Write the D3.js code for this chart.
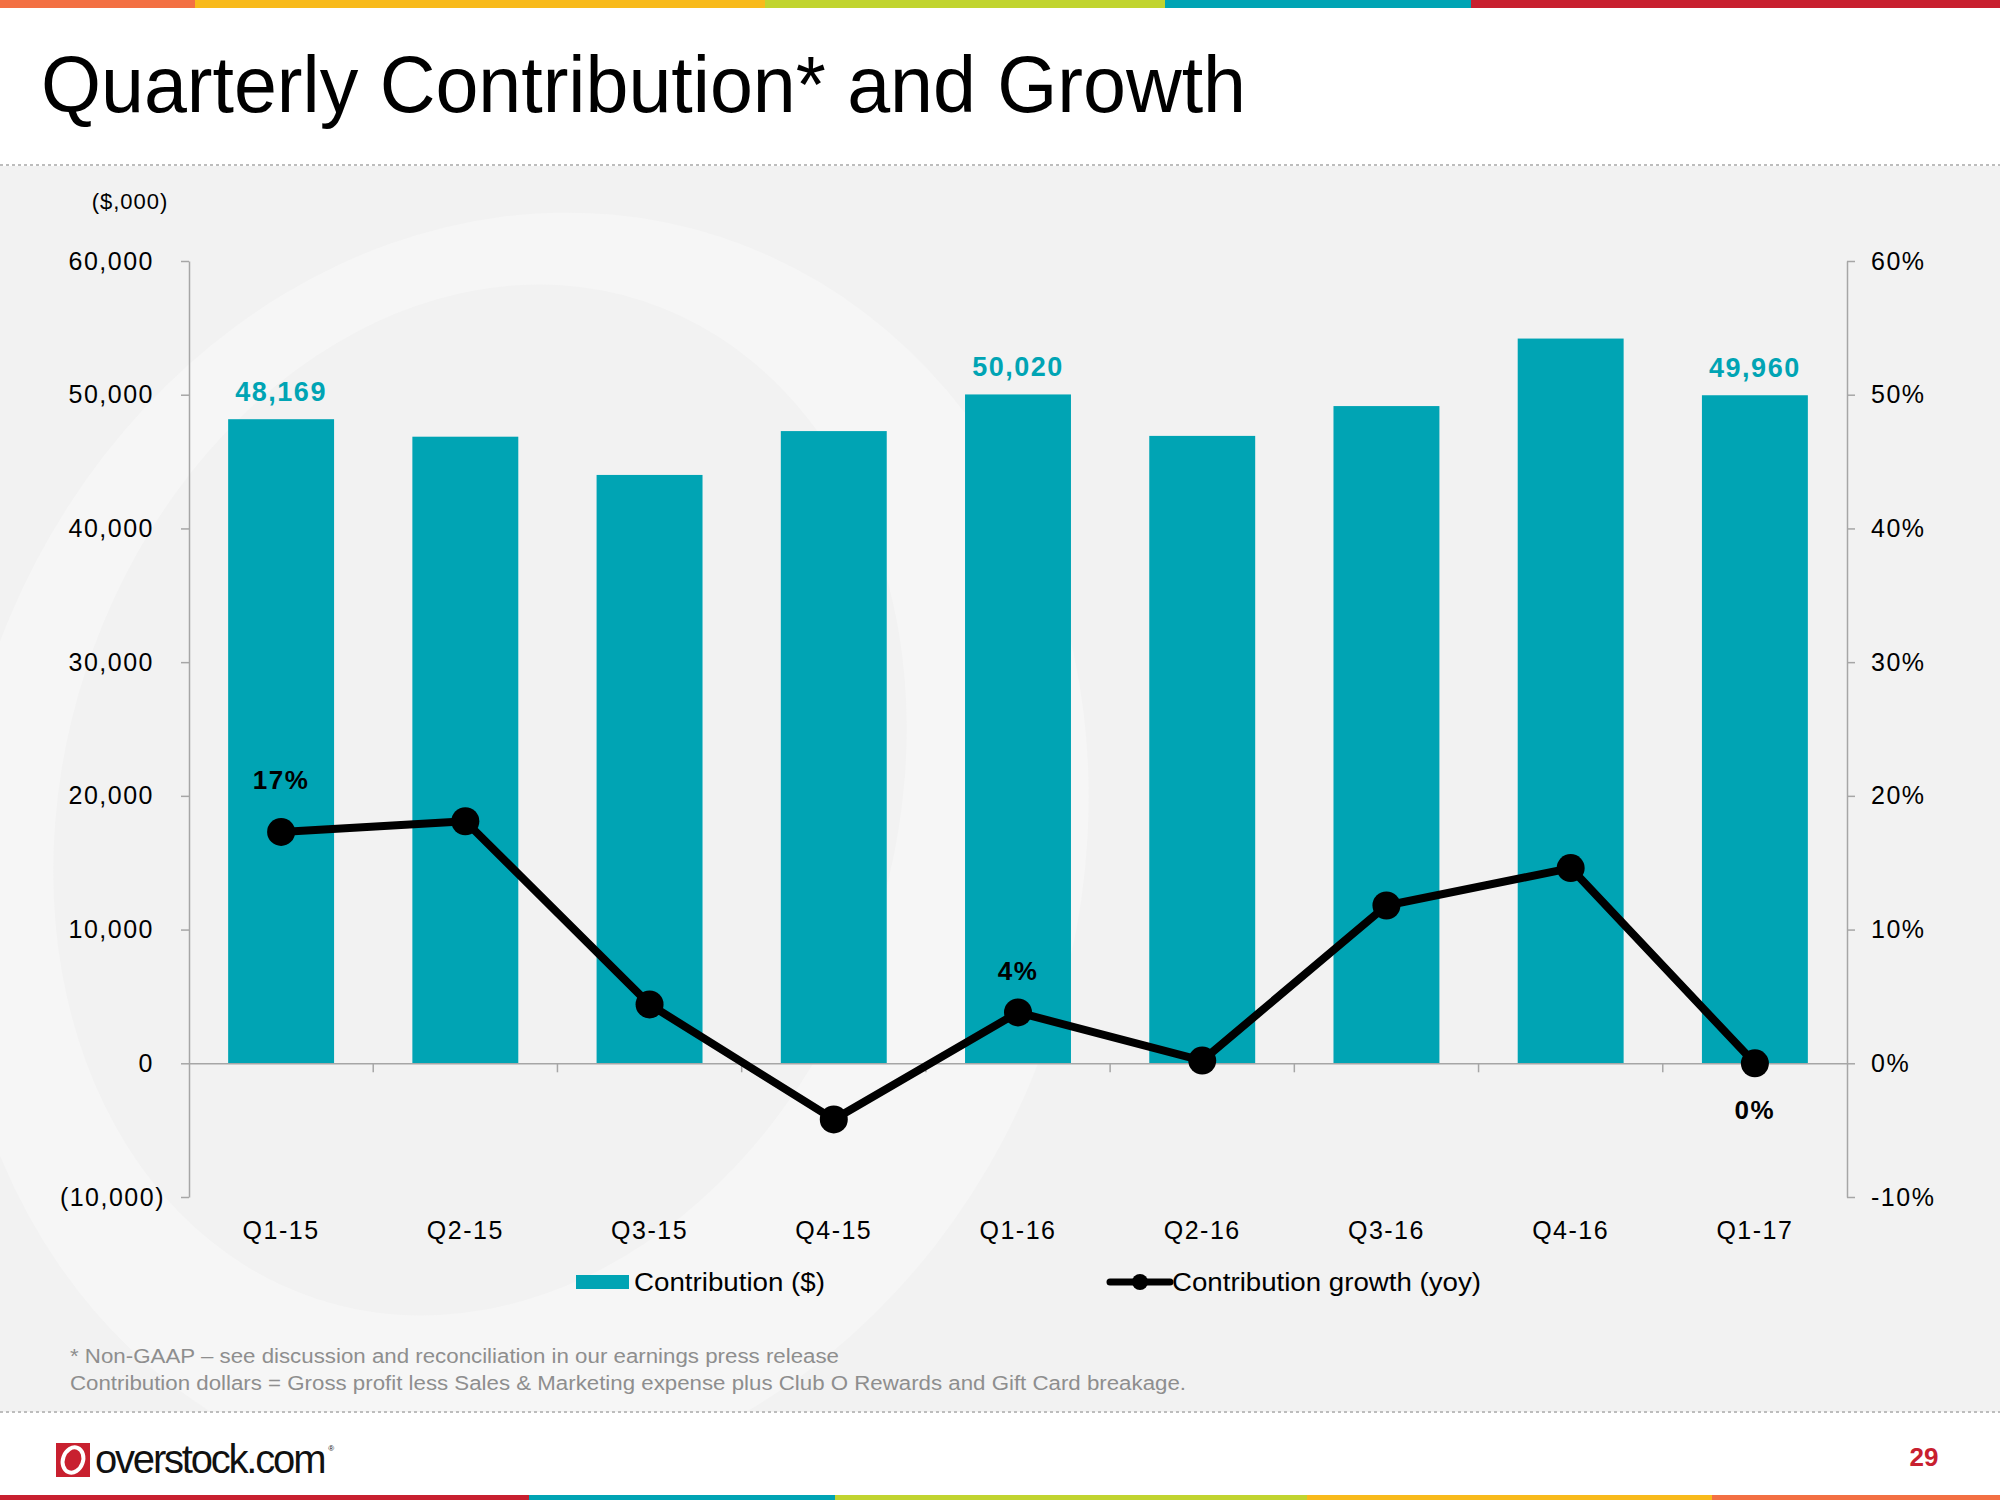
<!DOCTYPE html>
<html>
<head>
<meta charset="utf-8">
<script src="https://cdn.jsdelivr.net/npm/d3@7"></script>
<style>
  html, body { margin: 0; padding: 0; background: #ffffff; }
  svg { display: block; }
</style>
</head>
<body>
<script>
// ---------- DATA ----------
const categories = ["Q1-15", "Q2-15", "Q3-15", "Q4-15", "Q1-16", "Q2-16", "Q3-16", "Q4-16", "Q1-17"];
const contribution = [48169, 46860, 44000, 47280, 50020, 46920, 49150, 54200, 49960];
const growth = [17.3, 18.1, 4.4, -4.2, 3.8, 0.2, 11.8, 14.6, 0.0];
const leftTicks = [-10000, 0, 10000, 20000, 30000, 40000, 50000, 60000];
const rightTicks = [-10, 0, 10, 20, 30, 40, 50, 60];
const barLabels = [{ i: 0, text: "48,169" }, { i: 4, text: "50,020" }, { i: 8, text: "49,960" }];
const growthLabels = [{ i: 0, text: "17%", side: "above" }, { i: 4, text: "4%", side: "above" }, { i: 8, text: "0%", side: "below" }];
const seriesNames = ["Contribution ($)", "Contribution growth (yoy)"];
const titleText = "Quarterly Contribution* and Growth";
const unitText = "($,000)";
const footnotes = [
  "* Non-GAAP \u2013 see discussion and reconciliation in our earnings press release",
  "Contribution dollars = Gross profit less Sales & Marketing expense plus Club O Rewards and Gift Card breakage."
];
const topStripe = [["#F37043", 195], ["#F8BA1B", 570], ["#C1D42F", 400], ["#00A4B4", 306], ["#C8202F", 529]];
const bottomStripe = [["#C8202F", 529], ["#00A4B4", 306], ["#C1D42F", 472], ["#F8BA1B", 405], ["#F37043", 288]];

// ---------- STYLE ----------
const W = 2000, H = 1500;
const TEAL = "#00A4B4", RED = "#C8202F", AXIS = "#A6A6A6";
const FONT = "'Liberation Sans', Arial, sans-serif";
const NARROW = "'Liberation Sans Narrow', 'Liberation Sans', Arial, sans-serif";
const growthLabelOffset = { 0: -52, 4: -42, 8: 47 };

const svg = d3.select("body").append("svg").attr("width", W).attr("height", H);

// background panels
svg.append("rect").attr("x", 0).attr("y", 0).attr("width", W).attr("height", H).attr("fill", "#ffffff");
svg.append("rect").attr("x", 0).attr("y", 166).attr("width", W).attr("height", 1246).attr("fill", "#F2F2F2");

// watermark ring (faint "O")
const defs = svg.append("defs");
defs.append("clipPath").attr("id", "grayClip").append("rect")
  .attr("x", 0).attr("y", 167).attr("width", W).attr("height", 1244);
const wm = svg.append("g").attr("clip-path", "url(#grayClip)");
wm.append("ellipse").attr("cx", 520).attr("cy", 850).attr("rx", 560).attr("ry", 645)
  .attr("transform", "rotate(18,520,850)").attr("fill", "#F6F6F6");
wm.append("ellipse").attr("cx", 480).attr("cy", 800).attr("rx", 415).attr("ry", 525)
  .attr("transform", "rotate(18,480,800)").attr("fill", "#F2F2F2");

// stripes
let sx = 0;
topStripe.forEach(([c, w]) => { svg.append("rect").attr("x", sx).attr("y", 0).attr("width", w).attr("height", 8).attr("fill", c); sx += w; });
sx = 0;
bottomStripe.forEach(([c, w]) => { svg.append("rect").attr("x", sx).attr("y", 1495).attr("width", w).attr("height", 5).attr("fill", c); sx += w; });

// dashed separators
[165, 1412].forEach(y => svg.append("line").attr("x1", 0).attr("x2", W).attr("y1", y).attr("y2", y)
  .attr("stroke", "#BDBDBD").attr("stroke-width", 2).attr("stroke-dasharray", "3,3"));

// title
svg.append("text").attr("x", 41).attr("y", 112).text(titleText)
  .attr("font-family", NARROW).attr("font-size", 80).attr("fill", "#000")
  .attr("textLength", 1205).attr("lengthAdjust", "spacingAndGlyphs");

// ---------- SCALES ----------
const plotL = 189, plotR = 1847, plotT = 261, plotB = 1197;
const x = d3.scaleBand().domain(categories).range([plotL, plotR]).paddingInner(0.425).paddingOuter(0.2125);
const slot = d3.scaleBand().domain(categories).range([plotL, plotR]).padding(0);
const yL = d3.scaleLinear().domain([-10000, 60000]).range([plotB, plotT]);
const yR = d3.scaleLinear().domain([-10, 60]).range([plotB, plotT]);

// unit label
svg.append("text").attr("x", 130).attr("y", 201).attr("dy", "0.35em").attr("text-anchor", "middle")
  .text(unitText).attr("font-family", FONT).attr("font-size", 22).attr("letter-spacing", 1).attr("fill", "#000");

// left axis
const fmtL = v => v < 0 ? "(" + d3.format(",")(-v) + ")" : d3.format(",")(v);
const gL = svg.append("g").attr("transform", `translate(${plotL},0)`)
  .call(d3.axisLeft(yL).tickValues(leftTicks).tickSize(8).tickSizeOuter(0).tickFormat(fmtL));
gL.select(".domain").attr("stroke", AXIS).attr("stroke-width", 1.5);
gL.selectAll(".tick line").attr("stroke", AXIS).attr("stroke-width", 1.5);
gL.selectAll(".tick text").attr("font-family", FONT).attr("font-size", 25).attr("letter-spacing", 1.5)
  .attr("fill", "#000").attr("x", d => d < 0 ? -24 : -35);

// right axis
const gR = svg.append("g").attr("transform", `translate(${plotR},0)`)
  .call(d3.axisRight(yR).tickValues(rightTicks).tickSize(8).tickSizeOuter(0).tickFormat(v => v + "%"));
gR.select(".domain").attr("stroke", AXIS).attr("stroke-width", 1.5);
gR.selectAll(".tick line").attr("stroke", AXIS).attr("stroke-width", 1.5);
gR.selectAll(".tick text").attr("font-family", FONT).attr("font-size", 25).attr("letter-spacing", 1.5)
  .attr("fill", "#000").attr("x", 24);

// bars
svg.append("g").selectAll("rect").data(contribution).join("rect")
  .attr("x", (d, i) => x(categories[i]))
  .attr("width", x.bandwidth())
  .attr("y", d => yL(Math.max(0, d)))
  .attr("height", d => Math.abs(yL(d) - yL(0)))
  .attr("fill", TEAL);

// category (zero) axis
const y0 = yL(0);
const gX = svg.append("g").attr("transform", `translate(0,${y0})`)
  .call(d3.axisBottom(slot).tickSize(0).tickSizeOuter(0).tickFormat(""));
gX.select(".domain").attr("stroke", AXIS).attr("stroke-width", 1.5);
svg.append("g").selectAll("line").data(categories.slice(1)).join("line")
  .attr("x1", d => slot(d)).attr("x2", d => slot(d))
  .attr("y1", y0).attr("y2", y0 + 9).attr("stroke", AXIS).attr("stroke-width", 1.5);

// category labels
svg.append("g").selectAll("text").data(categories).join("text")
  .attr("x", d => x(d) + x.bandwidth() / 2).attr("y", plotB + 33).attr("dy", "0.35em")
  .attr("text-anchor", "middle").text(d => d)
  .attr("font-family", FONT).attr("font-size", 25).attr("letter-spacing", 1.5).attr("fill", "#000");

// bar labels
svg.append("g").selectAll("text").data(barLabels).join("text")
  .attr("x", d => x(categories[d.i]) + x.bandwidth() / 2)
  .attr("y", d => yL(contribution[d.i]) - 18)
  .attr("text-anchor", "middle").text(d => d.text)
  .attr("font-family", FONT).attr("font-weight", "bold").attr("font-size", 27)
  .attr("letter-spacing", 1.5).attr("fill", TEAL);

// growth line
const cx = i => x(categories[i]) + x.bandwidth() / 2;
const line = d3.line().x((d, i) => cx(i)).y(d => yR(d));
svg.append("path").datum(growth).attr("d", line)
  .attr("fill", "none").attr("stroke", "#000").attr("stroke-width", 8)
  .attr("stroke-linejoin", "round").attr("stroke-linecap", "round");
svg.append("g").selectAll("circle").data(growth).join("circle")
  .attr("cx", (d, i) => cx(i)).attr("cy", d => yR(d)).attr("r", 14).attr("fill", "#000");

// growth labels
svg.append("g").selectAll("text").data(growthLabels).join("text")
  .attr("x", d => cx(d.i))
  .attr("y", d => yR(growth[d.i]) + growthLabelOffset[d.i])
  .attr("dy", "0.35em").attr("text-anchor", "middle").text(d => d.text)
  .attr("font-family", FONT).attr("font-weight", "bold").attr("font-size", 26)
  .attr("letter-spacing", 1.5).attr("fill", "#000");

// legend
const legY = 1282;
svg.append("rect").attr("x", 576).attr("y", legY - 7).attr("width", 53).attr("height", 14).attr("fill", TEAL);
svg.append("text").attr("x", 634).attr("y", legY).attr("dy", "0.35em").text(seriesNames[0])
  .attr("font-family", FONT).attr("font-size", 25).attr("fill", "#000")
  .attr("textLength", 191).attr("lengthAdjust", "spacingAndGlyphs");
svg.append("line").attr("x1", 1110).attr("x2", 1170).attr("y1", legY).attr("y2", legY)
  .attr("stroke", "#000").attr("stroke-width", 7).attr("stroke-linecap", "round");
svg.append("circle").attr("cx", 1140).attr("cy", legY).attr("r", 8).attr("fill", "#000");
svg.append("text").attr("x", 1172).attr("y", legY).attr("dy", "0.35em").text(seriesNames[1])
  .attr("font-family", FONT).attr("font-size", 25).attr("fill", "#000")
  .attr("textLength", 309).attr("lengthAdjust", "spacingAndGlyphs");

// footnotes
const fnLens = [769, 1116];
footnotes.forEach((t, k) => {
  svg.append("text").attr("x", 70).attr("y", 1356 + k * 27).attr("dy", "0.35em").text(t)
    .attr("font-family", FONT).attr("font-size", 20).attr("fill", "#8E8E8E")
    .attr("textLength", fnLens[k]).attr("lengthAdjust", "spacingAndGlyphs");
});

// logo
const logo = svg.append("g");
logo.append("rect").attr("x", 56).attr("y", 1443).attr("width", 34).attr("height", 34).attr("fill", RED);
logo.append("ellipse").attr("cx", 73).attr("cy", 1460).attr("rx", 10).attr("ry", 13)
  .attr("transform", "rotate(20,73,1460)").attr("fill", "none").attr("stroke", "#fff").attr("stroke-width", 4);
const logoText = logo.append("text").attr("x", 95).attr("y", 1473)
  .attr("font-family", FONT).attr("font-size", 40).attr("letter-spacing", -2.2).attr("fill", "#111");
logoText.append("tspan").text("overstock.com");
logoText.append("tspan").attr("font-size", 8).attr("dx", 4).attr("dy", -22).attr("letter-spacing", 0).text("\u00AE");

// page number
svg.append("text").attr("x", 1924).attr("y", 1457).attr("dy", "0.35em").attr("text-anchor", "middle")
  .text("29").attr("font-family", FONT).attr("font-weight", "bold").attr("font-size", 26).attr("fill", RED);
</script>
</body>
</html>
